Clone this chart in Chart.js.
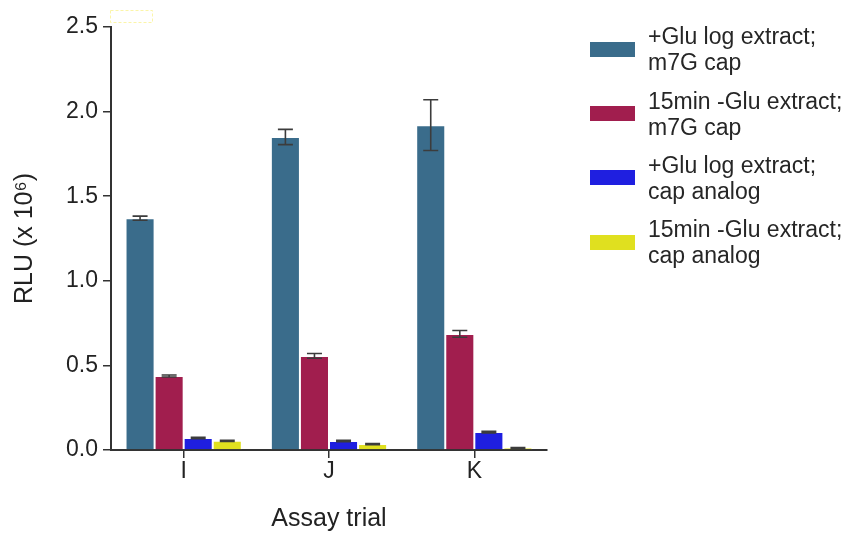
<!DOCTYPE html>
<html><head><meta charset="utf-8">
<script src="https://cdn.jsdelivr.net/npm/chart.js@4/dist/chart.umd.min.js"></script>
<style>
html,body{margin:0;padding:0;background:#fff;}
#wrap{position:relative;width:849px;height:534px;}
#legend{position:absolute;left:590px;top:0;font-family:"Liberation Sans",Arial,sans-serif;font-size:23px;color:#262626;}
.item{position:absolute;left:0;display:flex;align-items:center;width:259px;}
.box{width:45px;height:15px;margin-right:13px;flex:none;}
.txt{line-height:26px;white-space:nowrap;}
</style></head>
<body>
<div id="wrap"><canvas id="c" width="849" height="534"></canvas><div id="legend"></div></div>
<script>
const categories = ["I", "J", "K"];
const seriesNames = [
  ["+Glu log extract;", "m7G cap"],
  ["15min -Glu extract;", "m7G cap"],
  ["+Glu log extract;", "cap analog"],
  ["15min -Glu extract;", "cap analog"]
];
const glucoseM7G = [1.37, 1.85, 1.92];
const starvedM7G = [0.437, 0.556, 0.686];
const glucoseAnalog = [0.071, 0.053, 0.106];
const starvedAnalog = [0.054, 0.035, 0.012];
const errGlucoseM7G = [0.012, 0.045, 0.15];
const errStarvedM7G = [0.006, 0.014, 0.02];
const errGlucoseAnalog = [0.004, 0.004, 0.005];
const errStarvedAnalog = [0.003, 0.003, 0.003];
const yTicks = [0, 0.5, 1.0, 1.5, 2.0, 2.5];

const colors = ["#3a6c8b", "#a11e4e", "#1f1fe0", "#e0e01f"];
const values = [glucoseM7G, starvedM7G, glucoseAnalog, starvedAnalog];
const errors = [errGlucoseM7G, errStarvedM7G, errGlucoseAnalog, errStarvedAnalog];
const FONT = "'Liberation Sans', Arial, sans-serif";

const datasets = values.map((v, i) => ({
  label: seriesNames[i].join(" "),
  data: v,
  errors: errors[i],
  backgroundColor: colors[i],
  borderColor: "#ffffff",
  borderWidth: 1,
  categoryPercentage: 0.8,
  barPercentage: 1.0
}));

const errorBars = {
  id: "errorBars",
  afterDatasetsDraw(chart) {
    const ctx = chart.ctx, y = chart.scales.y;
    ctx.save();
    ctx.strokeStyle = "#3c3c3c";
    ctx.lineWidth = 1.6;
    chart.data.datasets.forEach((ds, di) => {
      const meta = chart.getDatasetMeta(di);
      meta.data.forEach((bar, j) => {
        const v = ds.data[j], e = ds.errors[j];
        const yt = y.getPixelForValue(v + e), yb = y.getPixelForValue(v - e);
        const x = bar.x, cw = 7.5;
        ctx.beginPath();
        ctx.moveTo(x, yt); ctx.lineTo(x, yb);
        ctx.moveTo(x - cw, yt); ctx.lineTo(x + cw, yt);
        ctx.moveTo(x - cw, yb); ctx.lineTo(x + cw, yb);
        ctx.stroke();
      });
    });
    ctx.restore();
  },
  afterDraw(chart) {
    const ctx = chart.ctx;
    ctx.save();
    ctx.strokeStyle = "#fbf5a8";
    ctx.lineWidth = 1;
    ctx.setLineDash([3, 2]);
    ctx.strokeRect(110.5, 10.5, 42, 12);
    ctx.restore();
  }
};

new Chart(document.getElementById("c"), {
  type: "bar",
  data: { labels: categories, datasets },
  plugins: [errorBars],
  options: {
    responsive: false,
    animation: false,
    layout: { padding: { top: 27, right: 302, bottom: 0, left: 0 } },
    plugins: { legend: { display: false }, tooltip: { enabled: false } },
    scales: {
      x: {
        grid: { display: true, drawOnChartArea: false, offset: false, tickLength: 8, color: "#333", lineWidth: 1.5 },
        border: { display: true, color: "#333", width: 2 },
        ticks: { color: "#222", font: { family: FONT, size: 23 }, padding: 0 },
        title: { display: true, text: "Assay trial", color: "#222", font: { family: FONT, size: 25 }, padding: { top: 0, bottom: 0 } },
        afterFit(s) { s.height = 84; }
      },
      y: {
        min: 0, max: 2.5,
        afterBuildTicks(s) { s.ticks = yTicks.map(v => ({ value: v })); },
        grid: { display: true, drawOnChartArea: false, tickLength: 8, color: "#333", lineWidth: 1.5 },
        border: { display: true, color: "#333", width: 2 },
        ticks: { color: "#222", font: { family: FONT, size: 23 }, padding: 5, callback: v => Number(v).toFixed(1) },
        title: { display: true, text: "RLU (x 10\u2076)", color: "#222", font: { family: FONT, size: 25 }, padding: { top: 10, bottom: 0 } },
        afterFit(s) { s.width = 111; }
      }
    }
  }
});

const leg = document.getElementById("legend");
const centers = [49, 113.5, 177.7, 242];
seriesNames.forEach((lines, i) => {
  const d = document.createElement("div");
  d.className = "item";
  d.style.top = (centers[i] - 26) + "px";
  d.style.height = "52px";
  d.innerHTML = '<div class="box" style="background:' + colors[i] + '"></div><div class="txt">' + lines.join("<br>") + '</div>';
  leg.appendChild(d);
});
</script>
</body></html>
